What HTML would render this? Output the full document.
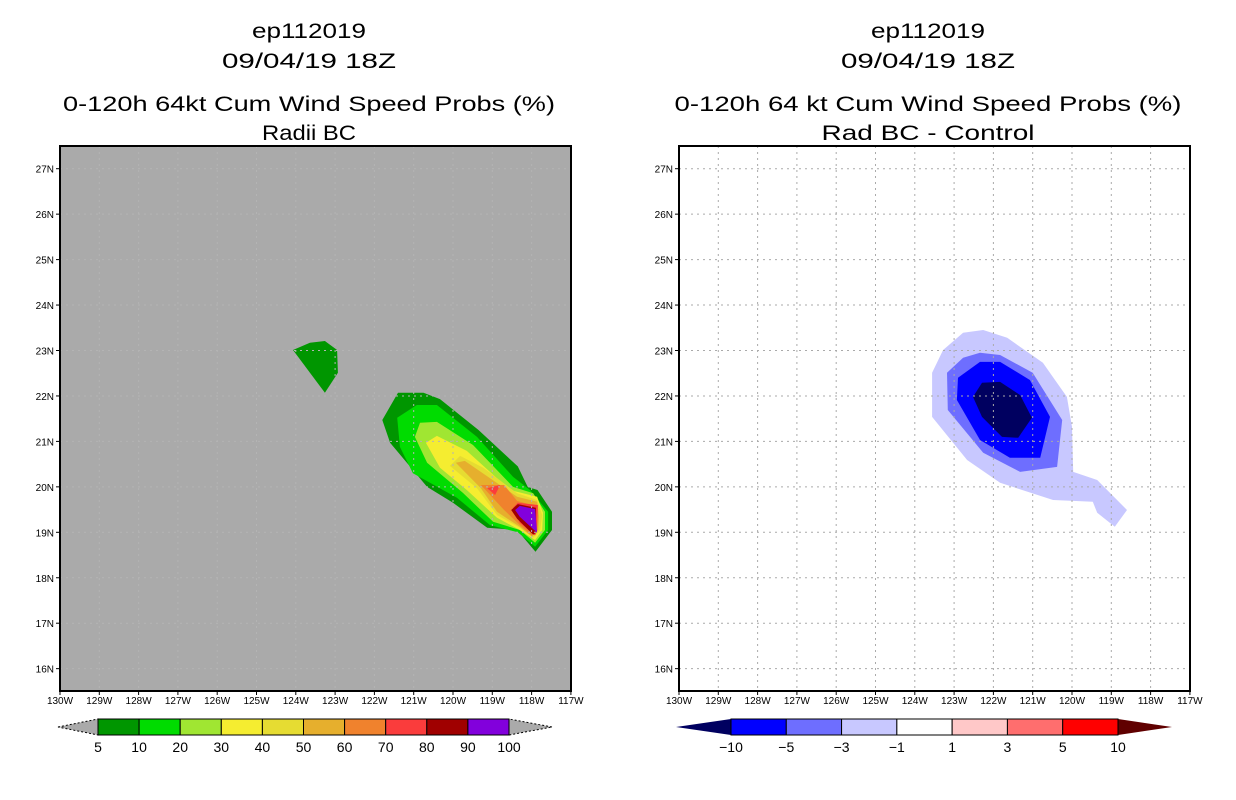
<!DOCTYPE html>
<html><head><meta charset="utf-8"><style>
body{margin:0;background:#fff;}
svg{display:block;font-family:"Liberation Sans",sans-serif;}
</style></head><body>
<svg id="c" width="1236" height="800"></svg>
<script>
const lonTicks=[-130,-129,-128,-127,-126,-125,-124,-123,-122,-121,-120,-119,-118,-117];
const latTicks=[16,17,18,19,20,21,22,23,24,25,26,27];
const probLevels=["5","10","20","30","40","50","60","70","80","90","100"];
const probColors=["#009600","#00dc00","#a0e632","#f5ed30","#e6dc32","#e6af2d","#f0822d","#fa3c3c","#a00000","#8200dc"];
const diffLevels=["-10","-5","-3","-1","1","3","5","10"];
const diffColors=["#0000ff","#6e6eff","#c8c8ff","#ffffff","#ffc8c8","#ff6e6e","#ff0000"];
// left panel probability contours (lon, lat)
const probContours=[
 {c:"#009600",p:[[-124.07,23.01],[-123.64,23.17],[-123.26,23.21],[-122.95,23.01],[-122.93,22.51],[-123.26,22.07]]},
 {c:"#009600",p:[[-121.8,21.47],[-121.4,22.07],[-120.75,22.07],[-120.33,21.93],[-119.35,21.25],[-118.35,20.45],[-118.1,20.0],[-117.85,19.93],[-117.48,19.45],[-117.48,19.05],[-117.9,18.57],[-118.37,19.05],[-119.13,19.1],[-120.0,19.65],[-120.66,20.0],[-121.6,20.97]]},
 {c:"#00dc00",p:[[-121.42,21.52],[-120.92,21.8],[-120.41,21.8],[-119.39,21.1],[-118.47,20.22],[-118.04,19.93],[-117.58,19.45],[-117.58,19.05],[-117.91,18.68],[-118.35,19.0],[-119.06,19.16],[-119.9,19.76],[-121.02,20.3],[-121.35,20.88]]},
 {c:"#a0e632",p:[[-120.97,21.1],[-120.84,21.41],[-120.41,21.43],[-119.49,20.92],[-118.47,20.0],[-117.96,19.86],[-117.66,19.45],[-117.66,19.05],[-117.91,18.77],[-118.3,19.05],[-118.98,19.23],[-119.75,19.87],[-120.66,20.53]]},
 {c:"#f5ed30",p:[[-120.69,20.97],[-120.41,21.12],[-119.65,20.79],[-118.55,19.93],[-117.86,19.78],[-117.71,19.43],[-117.73,19.05],[-117.91,18.83],[-118.3,19.05],[-118.88,19.32],[-119.65,19.93],[-120.33,20.42]]},
 {c:"#e6dc32",p:[[-120.08,20.46],[-119.82,20.68],[-119.23,20.42],[-118.37,19.86],[-117.86,19.71],[-117.73,19.38],[-117.78,19.05],[-117.96,18.88],[-118.3,19.1],[-118.88,19.38],[-119.39,19.97]]},
 {c:"#e6af2d",p:[[-119.93,20.53],[-119.7,20.57],[-118.37,19.78],[-117.86,19.67],[-117.81,19.34],[-117.83,19.05],[-117.99,18.9],[-118.3,19.12],[-118.88,19.45],[-119.29,19.97]]},
 {c:"#f0822d",p:[[-119.29,20.04],[-118.7,20.04],[-118.37,19.69],[-117.91,19.58],[-117.86,19.05],[-117.99,18.93],[-118.3,19.16],[-118.7,19.49]]},
 {c:"#fa3c3c",p:[[-119.13,19.97],[-118.8,20.04],[-118.93,19.82]]},
 {c:"#fa3c3c",p:[[-118.47,19.54],[-118.35,19.65],[-117.84,19.6],[-117.86,19.05],[-117.91,18.93],[-118.3,19.21]]},
 {c:"#a00000",p:[[-118.52,19.49],[-118.35,19.62],[-117.89,19.54],[-117.89,18.99],[-117.96,18.95],[-118.37,19.3]]},
 {c:"#8200dc",p:[[-118.42,19.49],[-118.3,19.58],[-117.91,19.51],[-117.86,18.99],[-118.3,19.34]]}
];
// right panel difference contours (lon, lat)
const diffContours=[
 {c:"#c8c8ff",p:[[-123.56,22.51],[-123.28,23.01],[-122.77,23.39],[-122.26,23.45],[-121.65,23.28],[-120.74,22.73],[-120.13,21.98],[-120.0,21.32],[-119.97,20.33],[-119.36,20.15],[-118.6,19.49],[-118.91,19.12],[-119.36,19.43],[-119.47,19.67],[-120.48,19.71],[-121.83,20.09],[-122.67,20.59],[-123.56,21.54]]},
 {c:"#6e6eff",p:[[-123.18,22.51],[-122.77,22.84],[-122.34,22.95],[-121.83,22.9],[-121.0,22.51],[-120.25,21.47],[-120.38,20.44],[-121.32,20.33],[-122.26,20.75],[-123.16,21.69]]},
 {c:"#0000ff",p:[[-122.9,22.4],[-122.34,22.75],[-121.83,22.75],[-121.07,22.35],[-120.56,21.54],[-120.81,20.64],[-121.58,20.64],[-122.34,21.03],[-122.93,21.91]]},
 {c:"#000060",p:[[-122.52,21.98],[-122.29,22.29],[-121.83,22.31],[-121.32,22.02],[-121.02,21.52],[-121.37,21.08],[-121.78,21.1],[-122.29,21.54]]}
];
const NS="http://www.w3.org/2000/svg";
const svg=document.getElementById('c');
function mk(t,a,parent){const e=document.createElementNS(NS,t);for(const k in a)e.setAttribute(k,a[k]);(parent||svg).appendChild(e);return e;}
function panel(x0,bg,titles,widths,contours,gridCol,nm){
 const x1=x0+511,y0=146,y1=691;
 const X=lon=>x0+(lon+130)*39.3;
 const Y=lat=>168.7+(27-lat)*45.45;
 const g=mk('g',{});
 
 
 const cx=x0+249;
 const ys=[38,68,111,140];
 titles.forEach((t,i)=>{const e=mk('text',{x:cx,y:ys[i],'text-anchor':'middle','font-size':21,fill:'#000',textLength:widths[i],lengthAdjust:'spacingAndGlyphs'},g);e.textContent=t;
  
  });
 const bgr=mk('rect',{x:x0,y:y0,width:x1-x0,height:y1-y0,fill:bg},g);
 
 
 contours.forEach((c,i)=>{const p=mk('polygon',{points:c.p.map(q=>X(q[0]).toFixed(1)+','+Y(q[1]).toFixed(1)).join(' '),fill:c.c},g);
  
  });
 lonTicks.forEach(l=>{const x=X(l);
  if(l>-130&&x<x1-2)mk('line',{x1:x,y1:y0,x2:x,y2:y1,stroke:gridCol,'stroke-width':1,'stroke-dasharray':'2,4'},g);
  mk('line',{x1:x,y1:y1,x2:x,y2:y1+4,stroke:'#000'},g);
  const t=mk('text',{x:x,y:y1+13,'text-anchor':'middle','font-size':10},g);t.textContent=(-l)+'W';
  
  });
 latTicks.forEach(l=>{const y=Y(l);
  mk('line',{x1:x0,y1:y,x2:x1,y2:y,stroke:gridCol,'stroke-width':1,'stroke-dasharray':'2,4'},g);
  mk('line',{x1:x0-4,y1:y,x2:x0,y2:y,stroke:'#000'},g);
  const t=mk('text',{x:x0-6,y:y+4,'text-anchor':'end','font-size':10},g);t.textContent=l+'N';
  
  });
 mk('rect',{x:x0,y:y0,width:x1-x0,height:y1-y0,fill:'none',stroke:'#000','stroke-width':2},g);
}
panel(60,'#aaaaaa',['ep112019','09/04/19 18Z','0-120h 64kt Cum Wind Speed Probs (%)','Radii BC'],[114,174,492,94],probContours,'#b4b4b4','left-panel');
panel(679,'#ffffff',['ep112019','09/04/19 18Z','0-120h 64 kt Cum Wind Speed Probs (%)','Rad BC - Control'],[114,174,507,213],diffContours,'#aaaaaa','right-panel');
function colorbar(xs,xe,tipL,tipR,cols,labels,lc,rc,nm,dashed){
 const g=mk('g',{});
 
 
 const y0=719,y1=735,ym=727,w=(xe-xs)/cols.length;
 mk('polygon',{points:`${tipL},${ym} ${xs},${y0} ${xs},${y1}`,fill:lc,stroke:dashed?'#000':'none','stroke-dasharray':'2,2'},g);
 mk('polygon',{points:`${tipR},${ym} ${xe},${y0} ${xe},${y1}`,fill:rc,stroke:dashed?'#000':'none','stroke-dasharray':'2,2'},g);
 cols.forEach((c,i)=>{const r=mk('rect',{x:xs+i*w,y:y0,width:w,height:y1-y0,fill:c,stroke:'#000','stroke-width':1},g);
  
  });
 labels.forEach((l,i)=>{const t=mk('text',{x:xs+i*w,y:752,'text-anchor':'middle','font-size':14},g);t.textContent=l.replace('-','\u2212');
  
  });
}
colorbar(98,509,58,552,probColors,probLevels,'#aaaaaa','#aaaaaa','prob-colorbar',true);
colorbar(731,1118,676,1172,diffColors,diffLevels,'#000060','#600000','diff-colorbar',false);
</script>
</body></html>
